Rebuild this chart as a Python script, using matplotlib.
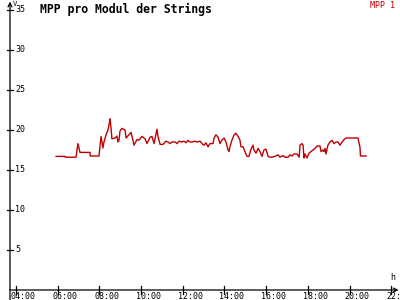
import numpy as np
import matplotlib
matplotlib.use('Agg')
import matplotlib.pyplot as plt
import matplotlib.transforms as mtransforms

# Data (time in decimal hours, MPP voltage per module)
hours = [5.92, 6.35, 6.36, 6.88, 6.97, 7.07, 7.55, 7.56, 7.98, 8.08, 8.17, 8.22,
         8.32, 8.41, 8.48, 8.51, 8.56, 8.60, 8.75, 8.84, 8.89, 8.94, 8.99, 9.08,
         9.23, 9.28, 9.42, 9.52, 9.66, 9.80, 9.90, 10.04, 10.19, 10.28, 10.43, 10.52,
         10.62, 10.76, 10.81, 10.91, 11.05, 11.19, 11.29, 11.39, 11.48, 11.63, 11.72,
         11.82, 11.96, 12.06, 12.15, 12.25, 12.35, 12.44, 12.59, 12.68, 12.83, 12.92,
         13.02, 13.11, 13.21, 13.30, 13.45, 13.50, 13.59, 13.69, 13.78, 13.88, 13.98,
         14.07, 14.17, 14.22, 14.26, 14.36, 14.46, 14.55, 14.65, 14.74, 14.79, 14.89,
         14.98, 15.08, 15.17, 15.27, 15.37, 15.41, 15.51, 15.61, 15.70, 15.80, 15.89,
         15.99, 16.09, 16.18, 16.28, 16.42, 16.57, 16.66, 16.81, 16.90, 17.05, 17.14,
         17.24, 17.33, 17.48, 17.58, 17.62, 17.72, 17.77, 17.81, 17.86, 17.96, 18.05,
         18.15, 18.24, 18.34, 18.44, 18.58, 18.63, 18.72, 18.77, 18.82, 18.87, 18.96,
         19.06, 19.16, 19.25, 19.35, 19.44, 19.54, 19.64, 19.73, 19.83, 20.40, 20.50,
         20.52, 20.79]
volts = [16.7, 16.7, 16.6, 16.6, 18.3, 17.2, 17.2, 16.75, 16.75, 19.2, 17.75, 18.5,
         19.4, 20.0, 20.9, 21.4, 20.2, 18.9, 19.0, 19.25, 18.5, 18.7, 19.9, 20.2,
         20.0, 19.0, 19.4, 19.7, 18.1, 18.8, 18.75, 19.2, 18.9, 18.3, 19.1, 19.2,
         18.3, 20.1, 19.2, 18.2, 18.2, 18.6, 18.5, 18.3, 18.5, 18.5, 18.3,
         18.6, 18.5, 18.6, 18.4, 18.7, 18.5, 18.5, 18.6, 18.5, 18.6, 18.3,
         18.1, 18.4, 17.9, 18.3, 18.3, 19.0, 19.4, 19.1, 18.3, 18.75, 19.0,
         18.5, 17.5, 17.3, 17.9, 18.75, 19.4, 19.6, 19.2, 18.75, 17.9, 17.9,
         17.3, 16.7, 16.7, 17.6, 18.1, 17.5, 17.1, 17.7, 17.3, 16.7, 17.5,
         17.6, 16.7, 16.6, 16.6, 16.7, 16.9, 16.6, 16.8, 16.6, 16.6, 16.9,
         16.75, 17.0, 17.0, 16.6, 18.1, 18.3, 18.1, 16.5, 17.0, 16.5, 17.1,
         17.3, 17.5, 17.7, 18.0, 18.0, 17.3, 17.5, 17.3, 17.7, 17.0, 18.1,
         18.5, 18.7, 18.3, 18.5, 18.5, 18.1, 18.5, 18.8, 19.0, 19.0, 17.8,
         16.75, 16.75]

yticks = [5, 10, 15, 20, 25, 30, 35]
xticks = [4, 6, 8, 10, 12, 14, 16, 18, 20, 22]
xlabels = ['04:00', '06:00', '08:00', '10:00', '12:00',
           '14:00', '16:00', '18:00', '20:00', '22:00']

red = '#c00000'
mono = 'DejaVu Sans Mono'

fig = plt.figure(figsize=(4, 3), dpi=100)
ax = fig.add_axes([0, 0, 1, 1])
ax.set_xlim(3.233, 22.417)
ax.set_ylim(-1.25, 36.25)
ax.axis('off')

x0 = 3.712  # position of the y axis

# axes with arrows
ax.annotate('', xy=(x0, 36.05), xytext=(x0, -1.3),
            arrowprops=dict(arrowstyle='->', lw=0.9, color='black',
                            shrinkA=0, shrinkB=0, mutation_scale=7))
ax.annotate('', xy=(22.35, 0), xytext=(x0, 0),
            arrowprops=dict(arrowstyle='->', lw=0.9, color='black',
                            shrinkA=0, shrinkB=0, mutation_scale=7))

# ticks
dx = 3.0 / 20.85
for v in yticks:
    ax.plot([x0 - dx, x0 + dx], [v, v], color='black', lw=0.9)
    ax.text(x0 + 0.25, v, str(v), fontsize=6, family=mono,
            va='center', ha='left')
for h, lab in zip(xticks, xlabels):
    ax.plot([h, h], [-0.45, 0.45], color='black', lw=0.9)
    off = mtransforms.offset_copy(ax.transData, fig=fig, x=-5, y=-2, units='dots')
    ax.text(h, 0, lab, fontsize=6, family=mono, va='top', ha='left',
            transform=off)

ax.text(x0 + 0.12, 35.7, 'V', fontsize=5, family=mono, va='center', ha='left')
ax.text(22.05, 1.0, 'h', fontsize=6, family=mono, va='bottom', ha='center')

ax.plot(hours, volts, color=red, lw=1.0)

fig.text(40 / 400, 1 - 9 / 300, 'MPP pro Modul der Strings', fontsize=8.3,
         family=mono, weight='bold', va='center', ha='left')
fig.text(395 / 400, 1 - 5 / 300, 'MPP 1', fontsize=6, family=mono,
         color=red, va='center', ha='right')

fig.savefig('out.png', dpi=100)
